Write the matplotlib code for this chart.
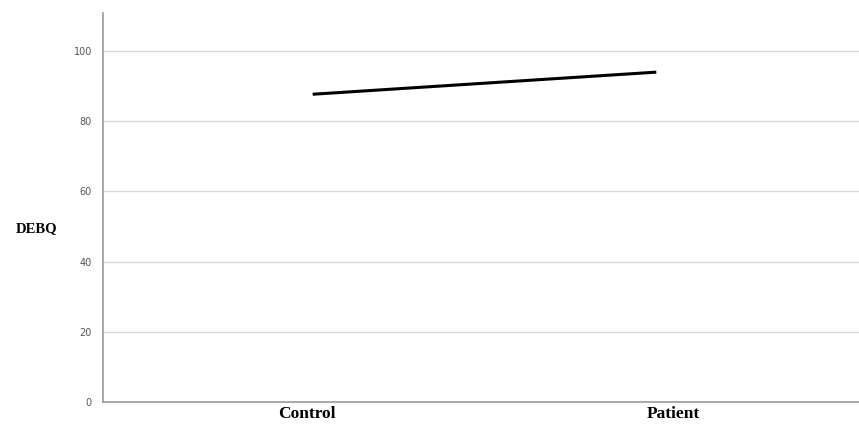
import matplotlib
matplotlib.use("Agg")
import matplotlib.pyplot as plt
from matplotlib.transforms import ScaledTranslation

groups = ["Control", "Patient"]
debq = [87.7, 94.0]
yticks = [0, 20, 40, 60, 80, 100]

fig = plt.figure(figsize=(8.59, 4.25), dpi=100)
ax = fig.add_axes([0.12, 0.054, 0.88, 0.915])

x = list(range(len(groups)))
ax.plot(x, debq, color="black", lw=2.2, solid_capstyle="butt")

ax.set_xlim(-0.61, 1.59)
ax.set_ylim(0, 110.8)
ax.set_yticks(yticks)
ax.set_yticklabels([str(v) for v in yticks], fontsize=7, color="#555555")
ax.set_xticks(x)
ax.set_xticklabels(groups, fontsize=12.5, fontweight="bold", family="Liberation Serif")
ax.tick_params(axis="both", length=0)
ax.tick_params(axis="y", pad=8)
ax.tick_params(axis="x", pad=3)
offsets = [-6, 17]
for lab, dx in zip(ax.get_xticklabels(), offsets):
    lab.set_transform(lab.get_transform() + ScaledTranslation(dx / 100, 0, fig.dpi_scale_trans))
for v in yticks[1:]:
    ax.axhline(v, color="#d9d9d9", lw=1.0, zorder=0)
for s in ["top", "right"]:
    ax.spines[s].set_visible(False)
for s in ["left", "bottom"]:
    ax.spines[s].set_color("#9a9a9a")
    ax.spines[s].set_linewidth(1.2)

fig.text(0.043, 0.463, "DEBQ", fontsize=10.5, fontweight="bold", family="Liberation Serif",
         ha="center", va="center")

fig.savefig("out.png", dpi=100)
